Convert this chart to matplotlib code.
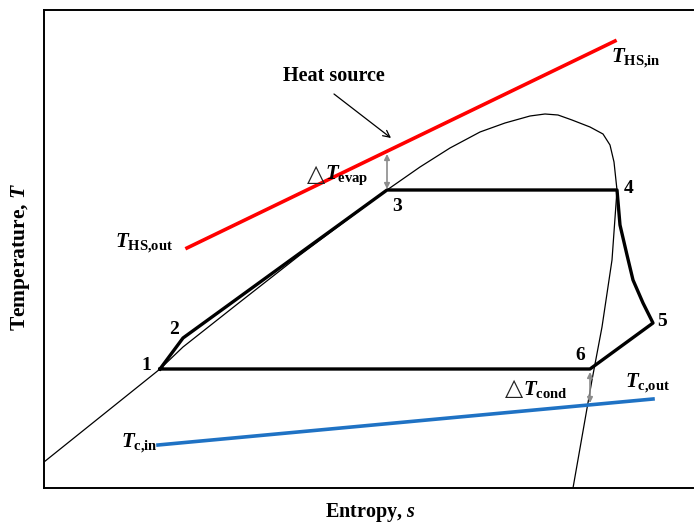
import matplotlib
matplotlib.use("Agg")
import matplotlib.pyplot as plt

plt.rcParams['font.family'] = ['Liberation Serif', 'DejaVu Serif']
plt.rcParams['mathtext.fontset'] = 'custom'
plt.rcParams['mathtext.rm'] = 'Liberation Serif:bold'
plt.rcParams['mathtext.it'] = 'Liberation Serif:italic:bold'
plt.rcParams['mathtext.bf'] = 'Liberation Serif:bold'

H = 524  # temperature axis runs upward

# saturation dome (entropy, temperature)
dome_s = [44, 160, 183, 240, 300, 387, 420, 450, 480, 505, 530, 545, 558, 572, 590, 603, 610, 614, 617, 612, 602, 592, 573]
dome_T = [H - v for v in [462, 369, 347, 302, 255, 190, 167, 148, 132, 123, 116, 114, 115, 120, 127, 134, 145, 162, 190, 260, 327, 380, 488]]

# ORC cycle states 1 -> 2 -> 3 -> 4 -> 5 -> 6 -> 1
cycle_s = [160, 183, 387, 617, 620, 627, 633, 643, 653, 590, 160]
cycle_T = [H - v for v in [369, 338, 190, 190, 225, 255, 280, 303, 323, 369, 369]]

# heat source and cooling water lines
hs_s = [187, 615]
hs_T = [H - 248, H - 41]
cw_s = [158, 653]
cw_T = [H - 445, H - 399]

fig = plt.figure(figsize=(6.94, 5.24), dpi=100)
ax = fig.add_axes([44 / 694, (H - 488) / H, (693 - 44) / 694, (488 - 10) / H])
ax.set_xlim(44, 693)
ax.set_ylim(H - 488, H - 10)
ax.set_xticks([])
ax.set_yticks([])
for side in ['left', 'bottom', 'top']:
    ax.spines[side].set_linewidth(1.4)
ax.spines['right'].set_visible(False)

ax.plot(dome_s, dome_T, color='black', lw=0.9, solid_joinstyle='round')
ax.plot(cycle_s, cycle_T, color='black', lw=2.4, solid_joinstyle='round')
ax.plot(hs_s, hs_T, color='#ff0000', lw=2.6)
ax.plot(cw_s, cw_T, color='#1f72c4', lw=2.6)

# temperature differences
gray = '#8c8c8c'
ax.annotate('', xy=(387, H - 154), xytext=(387, H - 189),
            arrowprops=dict(arrowstyle='<|-|>', color=gray, lw=1.2,
                            mutation_scale=8, shrinkA=0, shrinkB=0))
ax.annotate('', xy=(590, H - 372), xytext=(590, H - 403),
            arrowprops=dict(arrowstyle='<|-|>', color=gray, lw=1.2,
                            mutation_scale=8, shrinkA=0, shrinkB=0))

# heat source pointer
ax.annotate('', xy=(391, H - 138), xytext=(334, H - 94),
            arrowprops=dict(arrowstyle='->', color='black', lw=0.9,
                            mutation_scale=12, shrinkA=0, shrinkB=0))
ax.text(334, H - 76, 'Heat source', ha='center', va='center',
        fontsize=14.5, fontweight='bold')

lab = dict(fontsize=14, fontweight='bold', ha='center', va='center')
ax.text(146, H - 366, '1', **lab)
ax.text(174, H - 330, '2', **lab)
ax.text(397, H - 206, '3', **lab)
ax.text(629, H - 188, '4', **lab)
ax.text(662, H - 321, '5', **lab)
ax.text(580, H - 355, '6', **lab)

sub = dict(fontsize=15, va='center', ha='left')
tri = dict(fontsize=17, va='center', ha='left', family='DejaVu Sans',
           fontweight='normal', color='#222222')
ax.text(307, H - 174, '△', **tri)
ax.text(325, H - 175, r'$T_{\mathrm{evap}}$', **sub)
ax.text(505, H - 388, '△', **tri)
ax.text(523, H - 389, r'$T_{\mathrm{cond}}$', **sub)
ax.text(115, H - 243, r'$T_{\mathrm{HS{,}out}}$', **sub)
ax.text(611, H - 58, r'$T_{\mathrm{HS{,}in}}$', **sub)
ax.text(121, H - 443, r'$T_{\mathrm{c{,}in}}$', **sub)
ax.text(625, H - 383, r'$T_{\mathrm{c{,}out}}$', **sub)

fig.text(370 / 694, 1 - 513 / H, r'Entropy, $s$', ha='center', va='center',
         fontsize=14.5, fontweight='bold')
fig.text(21 / 694, 1 - 257 / H, r'Temperature, $T$', ha='center', va='center',
         rotation=90, fontsize=15.5, fontweight='bold')

fig.savefig('out.png', dpi=100)
